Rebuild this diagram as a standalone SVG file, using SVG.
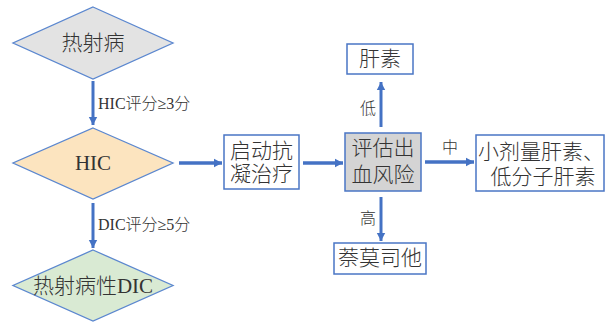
<svg xmlns="http://www.w3.org/2000/svg" width="609" height="324" viewBox="0 0 609 324">
<style>
.dia{stroke:#5b87cf;stroke-width:1.3}
.box{fill:#ffffff;stroke:#4a76c5;stroke-width:1.5}
.t{font-family:"Liberation Serif","Noto Sans CJK SC",serif;fill:#333333;text-anchor:middle;dominant-baseline:central}
.big{font-size:21px}
.lbl{font-size:16px}
.cn{font-weight:300}
.con line{stroke:#4472c4;stroke-width:3}
</style>
<defs>
<marker id="ah" markerUnits="userSpaceOnUse" markerWidth="10" markerHeight="10" refX="8" refY="5" orient="auto">
<path d="M0,0.8 L8,5 L0,9.2 Z" fill="#4472c4"/>
</marker>
</defs>
<rect width="609" height="324" fill="#ffffff"/>
<g id="n-heatstroke">
<polygon class="dia" points="93,7 173,43 93,79 13,43" fill="#e3e3e3"/>
<text class="t big cn" x="93" y="43">热射病</text>
</g>
<g id="n-hic">
<polygon class="dia" points="93,128 173,163 93,199 13,163" fill="#fce4bf"/>
<text class="t big" x="93" y="163">HIC</text>
</g>
<g id="n-dic">
<polygon class="dia" points="93,250 173,285.5 93,321 13,285.5" fill="#d9ead3"/>
<text class="t big" x="93" y="285.5"><tspan class="cn">热射病性</tspan>DIC</text>
</g>
<g id="n-anticoag">
<rect class="box" x="224" y="135" width="75" height="54"/>
<text class="t big cn" x="261.5" y="151">启动抗</text>
<text class="t big cn" x="261.5" y="174">凝治疗</text>
</g>
<g id="n-assess">
<rect class="box" x="345" y="133" width="76" height="58" style="fill:#d4d4d4"/>
<text class="t big cn" x="383" y="148">评估出</text>
<text class="t big cn" x="383" y="175">血风险</text>
</g>
<g id="n-heparin">
<rect class="box" x="347" y="44" width="66" height="30"/>
<text class="t big cn" x="380" y="59">肝素</text>
</g>
<g id="n-nafamostat">
<rect class="box" x="334" y="243" width="92" height="31"/>
<text class="t big cn" x="380" y="258">萘莫司他</text>
</g>
<g id="n-lowdose">
<rect class="box" x="476" y="135" width="128" height="56"/>
<text class="t big cn" x="541" y="152">小剂量肝素、</text>
<text class="t big cn" x="543" y="177">低分子肝素</text>
</g>
<g id="connectors" class="con">
<line x1="93" y1="81" x2="93" y2="125" marker-end="url(#ah)"/>
<line x1="93" y1="203" x2="93" y2="248" marker-end="url(#ah)"/>
<line x1="179" y1="163" x2="222" y2="163" style="stroke-width:3.5" marker-end="url(#ah)"/>
<line x1="303" y1="163" x2="343" y2="163" style="stroke-width:3.5" marker-end="url(#ah)"/>
<line x1="381" y1="127" x2="381" y2="82" marker-end="url(#ah)"/>
<line x1="381" y1="197" x2="381" y2="241" marker-end="url(#ah)"/>
<line x1="425" y1="162" x2="474" y2="162" style="stroke-width:3.5" marker-end="url(#ah)"/>
</g>
<g id="labels">
<text class="t lbl" x="98" y="103" style="text-anchor:start">HIC<tspan class="cn">评分</tspan>≥3<tspan class="cn">分</tspan></text>
<text class="t lbl" x="98" y="224" style="text-anchor:start">DIC<tspan class="cn">评分</tspan>≥5<tspan class="cn">分</tspan></text>
<text class="t lbl cn" x="368" y="108">低</text>
<text class="t lbl cn" x="368" y="218">高</text>
<text class="t lbl cn" x="450" y="147">中</text>
</g>
</svg>
